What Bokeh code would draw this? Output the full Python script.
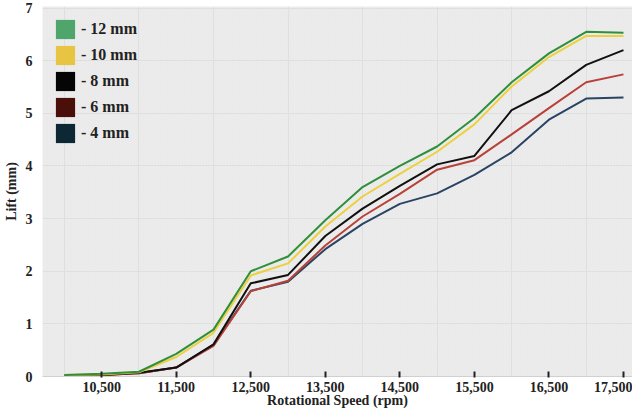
from bokeh.plotting import figure
from bokeh.models import (FixedTicker, NumeralTickFormatter, Range1d, Legend, LegendItem,
                          ColumnDataSource, BoxAnnotation)
from bokeh.embed import file_html
from bokeh.resources import INLINE

rpm = [10000, 10500, 11000, 11500, 12000, 12500, 13000, 13500,
       14000, 14500, 15000, 15500, 16000, 16500, 17000, 17500]
lift_12 = [0.03, 0.05, 0.09, 0.43, 0.89, 2.00, 2.28, 2.97, 3.60, 4.00, 4.37, 4.91, 5.59, 6.14, 6.55, 6.53]
lift_10 = [0.03, 0.04, 0.08, 0.37, 0.83, 1.92, 2.15, 2.85, 3.42, 3.85, 4.27, 4.79, 5.51, 6.07, 6.47, 6.47]
lift_8 = [0.02, 0.03, 0.07, 0.17, 0.61, 1.77, 1.93, 2.67, 3.19, 3.62, 4.03, 4.19, 5.06, 5.42, 5.92, 6.20]
lift_6 = [0.02, 0.03, 0.06, 0.17, 0.58, 1.62, 1.82, 2.49, 3.04, 3.47, 3.93, 4.11, 4.60, 5.10, 5.59, 5.74]
lift_4 = [0.02, 0.03, 0.06, 0.17, 0.60, 1.63, 1.80, 2.42, 2.90, 3.28, 3.48, 3.83, 4.26, 4.88, 5.28, 5.30]

x_ticks = [10500, 11500, 12500, 13500, 14500, 15500, 16500, 17500]
y_ticks = [0, 1, 2, 3, 4, 5, 6, 7]
x_grid = [10000, 11000, 12000, 13000, 14000, 15000, 16000, 17000]

labels = ["- 12 mm", "- 10 mm", "- 8 mm", "- 6 mm", "- 4 mm"]
series = [lift_12, lift_10, lift_8, lift_6, lift_4]
line_colors = ["#2f8f3a", "#ecd040", "#111111", "#b8423a", "#2a4463"]
legend_colors = ["#4fa56b", "#e8c443", "#050505", "#4a0f09", "#0d2834"]

x_title = "Rotational Speed (rpm)"
y_title = "Lift (mm)"

FONT = "Liberation Serif"
NAN = float("nan")

p = figure(width=632, height=410, output_backend="svg", toolbar_location=None,
           x_range=Range1d(9706, 17621), y_range=Range1d(0, 7.03),
           min_border_left=0, min_border_right=0, min_border_top=6, min_border_bottom=0)
p.background_fill_color = "#f2f2f2"
p.border_fill_color = "white"
p.outline_line_color = None

p.add_layout(BoxAnnotation(fill_alpha=0, line_color=None, hatch_pattern="\\",
                           hatch_color="#d4d4d4", hatch_scale=3, hatch_weight=0.8,
                           hatch_alpha=0.5, level="underlay"))

# lines: draw 4mm first so 12mm ends on top
for ys, col in reversed(list(zip(series, line_colors))):
    p.line(rpm, ys, line_color=col, line_width=2)

# legend swatches
items = []
for lab, col in zip(labels, legend_colors):
    r = p.quad(source=ColumnDataSource(dict(left=[NAN], right=[NAN], top=[NAN], bottom=[NAN])),
               left="left", right="right", top="top", bottom="bottom",
               fill_color=col, line_color=None)
    items.append(LegendItem(label=lab, renderers=[r], index=0))
leg = Legend(items=items, location="top_left", margin=11, padding=0,
             glyph_width=24, glyph_height=24, spacing=2, label_standoff=4,
             background_fill_alpha=0, border_line_color=None,
             label_text_font=FONT, label_text_font_style="bold",
             label_text_font_size="16px", label_text_color="#222222")
p.add_layout(leg)

# axes
p.xaxis.ticker = FixedTicker(ticks=x_ticks)
p.xaxis.formatter = NumeralTickFormatter(format="0,0")
p.xaxis.axis_label = x_title
p.xaxis.axis_line_color = "#d0d0d0"
p.xaxis.major_tick_line_color = "#222222"
p.xaxis.major_tick_line_width = 2
p.xaxis.major_tick_in = 5
p.xaxis.major_tick_out = 1
p.xaxis.minor_tick_line_color = None
p.xaxis.major_label_standoff = 4
p.xaxis.axis_label_standoff = -2

p.yaxis.ticker = FixedTicker(ticks=y_ticks)
p.yaxis.axis_label = y_title
p.yaxis.axis_line_color = None
p.yaxis.major_tick_line_color = None
p.yaxis.minor_tick_line_color = None
p.yaxis.major_tick_in = 0
p.yaxis.major_tick_out = 0
p.yaxis.major_label_standoff = 10
p.yaxis.axis_label_standoff = 4

for ax in (p.xaxis, p.yaxis):
    ax.major_label_text_font = FONT
    ax.major_label_text_font_style = "bold"
    ax.major_label_text_font_size = "14px"
    ax.major_label_text_color = "#222222"
    ax.axis_label_text_font = FONT
    ax.axis_label_text_font_style = "bold"
    ax.axis_label_text_font_size = "14px"
    ax.axis_label_text_color = "#222222"

p.xgrid.ticker = FixedTicker(ticks=x_grid)
p.ygrid.ticker = FixedTicker(ticks=y_ticks)
p.grid.grid_line_color = "#e2e2e2"
p.grid.grid_line_width = 1

open("out.html", "w").write(file_html(p, INLINE))
